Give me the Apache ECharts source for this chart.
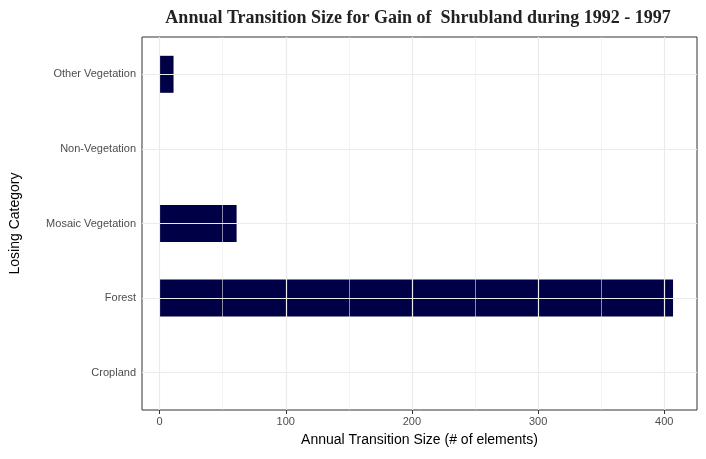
<!DOCTYPE html>
<html>
<head>
<meta charset="utf-8">
<script src="https://cdn.jsdelivr.net/npm/echarts@6/dist/echarts.min.js"></script>
<style>html,body{margin:0;padding:0;background:#fff}#chart{width:706px;height:459px}</style>
</head>
<body>
<div id="chart"></div>
<script>
const categories = ['Cropland', 'Forest', 'Mosaic Vegetation', 'Non-Vegetation', 'Other Vegetation']
const values = [0, 407, 61, 0, 11]
const majorTicks = [0, 100, 200, 300, 400]
const minorTicks = [50, 150, 250, 350]

const chart = echarts.init(document.getElementById('chart'))

const vLine = (v, w) => ({ xAxis: v, lineStyle: { color: '#ebebeb', width: w, type: 'solid' } })

chart.setOption({
  animation: false,
  title: {
    text: 'Annual Transition Size for Gain of  Shrubland during 1992 - 1997',
    left: 413, top: 4, textAlign: 'center',
    textStyle: { fontFamily: 'Liberation Serif', fontWeight: 'bold', fontSize: 18, color: '#222' }
  },
  grid: { left: 135, right: 9, top: 37, bottom: 49, show: true, borderColor: '#333', borderWidth: 1 },
  xAxis: {
    type: 'value', min: -14, max: 426,
    name: 'Annual Transition Size (# of elements)', nameLocation: 'middle', nameGap: 23,
    nameTextStyle: { fontFamily: 'Liberation Sans', fontSize: 14, color: '#000' },
    axisLine: { show: false },
    axisTick: { show: true, customValues: majorTicks, length: 4, lineStyle: { color: '#333' } },
    axisLabel: { customValues: majorTicks, fontFamily: 'Liberation Sans', fontSize: 11, color: '#4d4d4d', margin: 6 },
    splitLine: { show: false }
  },
  yAxis: {
    type: 'category', data: categories,
    name: 'Losing Category', nameLocation: 'middle', nameGap: 120, nameRotate: 90,
    nameTextStyle: { fontFamily: 'Liberation Sans', fontSize: 14, color: '#000' },
    axisLine: { show: false },
    axisTick: { show: true, alignWithLabel: true, length: 4, lineStyle: { color: '#333' } },
    axisLabel: { fontFamily: 'Liberation Sans', fontSize: 11, color: '#4d4d4d', margin: 6 },
    splitLine: { show: false }
  },
  series: [
    {
      type: 'line', data: categories.map(c => [0, c]), symbol: 'none', lineStyle: { opacity: 0 },
      silent: true, z: 1,
      markLine: {
        silent: true, symbol: 'none', label: { show: false },
        data: majorTicks.map(v => vLine(v, 1.2)).concat(minorTicks.map(v => vLine(v, 0.6)))
          .concat(categories.map(c => ({ yAxis: c, lineStyle: { color: '#ebebeb', width: 1.2, type: 'solid' } })))
      }
    },
    {
      type: 'bar', data: values, barWidth: 37, z: 3,
      itemStyle: { color: '#000046' }
    }
  ]
})
</script>
</body>
</html>
